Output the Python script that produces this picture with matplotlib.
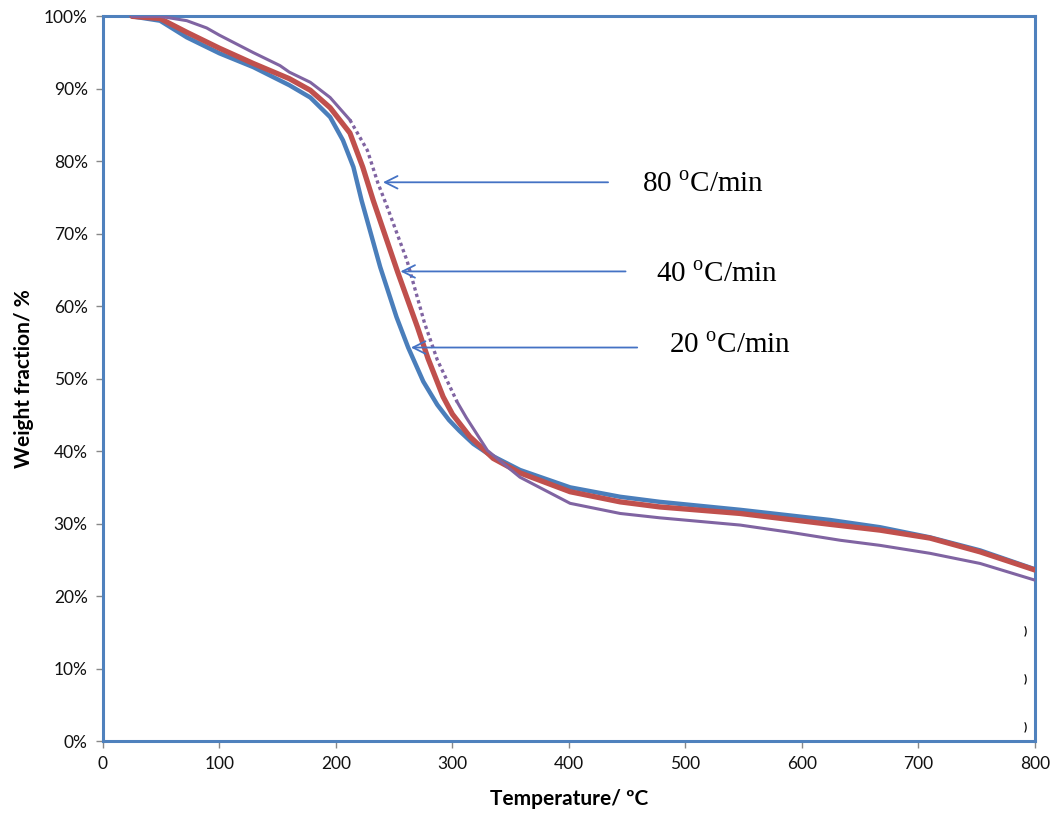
import matplotlib
matplotlib.use('Agg')
import matplotlib.pyplot as plt
from matplotlib.ticker import PercentFormatter

COLOR_20 = '#4A7EBB'   # blue
COLOR_40 = '#C0504D'   # red
COLOR_80 = '#8064A2'   # purple
COLOR_FRAME = '#4F81BD'
COLOR_ARROW = '#4472C4'

# 20 oC/min
temp_20 = [25, 49, 72, 100, 129, 160, 178, 195, 206, 215, 222, 238, 252, 262, 275, 287, 297,
           306, 318, 330, 358, 401, 444, 478, 547, 624, 667, 710, 753, 800]
wf_20 = [100, 99.4, 97.1, 94.9, 93.0, 90.5, 88.8, 86.1, 82.9, 79.2, 74.6, 65.4, 58.5, 54.3, 49.6, 46.4, 44.3,
         42.8, 41.0, 39.7, 37.4, 35.0, 33.7, 33.0, 31.9, 30.5, 29.5, 28.1, 26.3, 23.7]

# 40 oC/min
temp_40 = [25, 49, 72, 100, 129, 160, 178, 195, 212, 223, 232, 253, 270, 279, 292, 300,
           315, 335, 358, 401, 444, 478, 547, 624, 667, 710, 753, 800]
wf_40 = [100, 99.7, 97.8, 95.6, 93.5, 91.4, 89.8, 87.4, 83.9, 79.2, 74.6, 64.7, 57.1, 52.8, 47.5, 45.1,
         42.0, 39.0, 37.0, 34.4, 33.0, 32.3, 31.4, 29.9, 29.1, 28.0, 26.1, 23.6]

# 80 oC/min
temp_80 = [25, 49, 72, 89, 100, 129, 152, 160, 178, 195, 212, 227, 236, 244, 261, 276, 287, 304,
           312, 330, 358, 401, 444, 478, 547, 590, 633, 667, 710, 753, 800]
wf_80 = [100, 100, 99.4, 98.4, 97.4, 95.0, 93.2, 92.3, 90.9, 88.8, 85.7, 81.5, 77.0, 73.7, 66.3, 57.7, 52.6, 46.8,
         44.6, 40.1, 36.4, 32.8, 31.4, 30.8, 29.8, 28.8, 27.7, 27.0, 25.9, 24.5, 22.2]

# annotations: label, text position, arrow tail, arrow head (data coords)
rate_labels = ['80 $^{\\rm o}$C/min', '40 $^{\\rm o}$C/min', '20 $^{\\rm o}$C/min']
label_xy = [(463, 76.8), (475, 64.4), (486, 54.6)]
arrow_tail = [(436, 77.1), (451, 64.8), (461, 54.3)]
arrow_head = [(238, 77.1), (253, 64.8), (262, 54.3)]

x_ticks = list(range(0, 801, 100))
y_ticks = list(range(0, 101, 10))

plt.rcParams.update({
    'font.family': ['Lato', 'DejaVu Sans'],
    'mathtext.fontset': 'custom',
    'mathtext.rm': 'Liberation Serif',
})

fig = plt.figure(figsize=(10.57, 8.17), dpi=100)
ax = fig.add_axes([0.0974, 0.093, 0.8817, 0.887])

ax.plot(temp_20, wf_20, color=COLOR_20, lw=3.2, solid_capstyle='round',
        solid_joinstyle='round', zorder=3)
ax.plot(temp_40, wf_40, color=COLOR_40, lw=3.8, solid_capstyle='round',
        solid_joinstyle='round', zorder=4)

# purple curve: thin solid line, dotted where the mass loss is steep
i0, i1 = temp_80.index(212), temp_80.index(304)
ax.plot(temp_80[:i0 + 1], wf_80[:i0 + 1], color=COLOR_80, lw=2.2,
        solid_joinstyle='round', zorder=5)
ax.plot(temp_80[i0:i1 + 1], wf_80[i0:i1 + 1], color=COLOR_80, lw=2.4,
        linestyle=(0, (1, 1)), zorder=5)
ax.plot(temp_80[i1:], wf_80[i1:], color=COLOR_80, lw=2.2,
        solid_joinstyle='round', zorder=5)

for lab, pos, tail, head in zip(rate_labels, label_xy, arrow_tail, arrow_head):
    ax.annotate('', xy=head, xytext=tail,
                arrowprops=dict(arrowstyle='->,head_length=0.9,head_width=0.45',
                                color=COLOR_ARROW, lw=1.3), zorder=6)
    ax.text(pos[0], pos[1], lab, fontsize=21, family='Liberation Serif',
            ha='left', va='center', color='black')

# stray marks near the right edge
for yy in [15.2, 8.6, 2.0]:
    ax.text(792, yy, ')', fontsize=8, fontweight='bold', ha='center', va='center')

ax.set_xlim(0, 800)
ax.set_ylim(0, 100)
ax.set_xticks(x_ticks)
ax.set_yticks(y_ticks)
ax.yaxis.set_major_formatter(PercentFormatter(decimals=0))
ax.tick_params(direction='out', length=5, width=1, color='#888888',
               labelsize=12.5, labelcolor='#111111', pad=6)

for sp in ax.spines.values():
    sp.set_color(COLOR_FRAME)
    sp.set_linewidth(2.2)

ax.set_xlabel('Temperature/ ºC', fontsize=15, fontweight='bold', labelpad=12)
ax.set_ylabel('Weight fraction/ %', fontsize=15, fontweight='bold', labelpad=7)

fig.savefig('out.png', dpi=100, facecolor='white')
